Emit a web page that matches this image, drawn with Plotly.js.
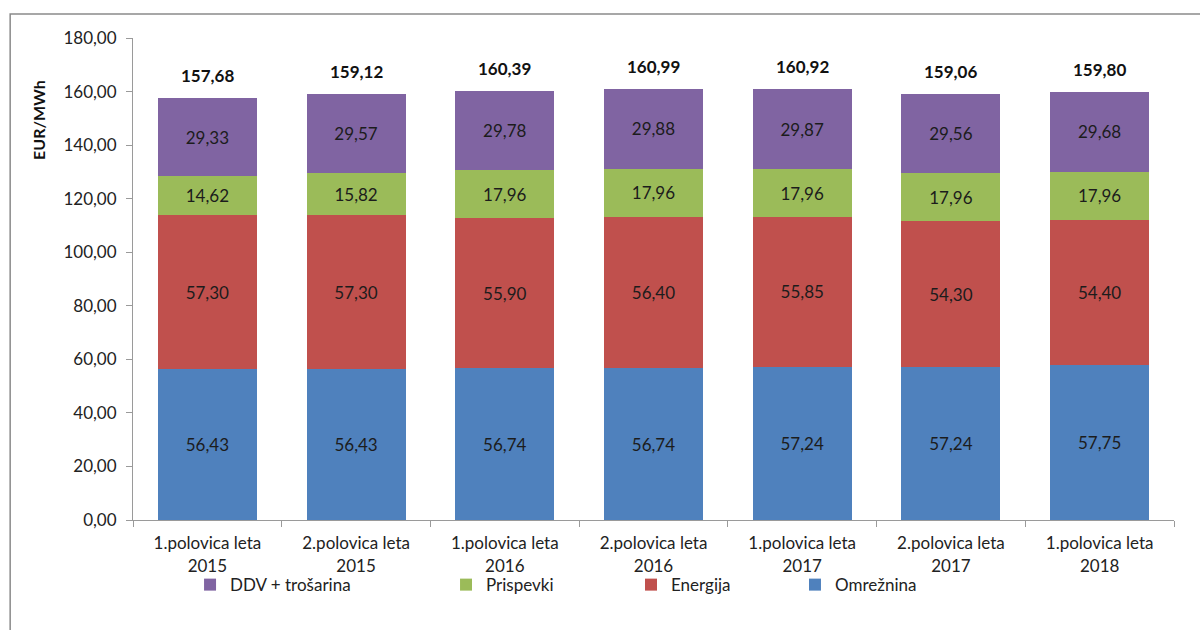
<!DOCTYPE html>
<html>
<head>
<meta charset="utf-8">
<script src="https://cdn.plot.ly/plotly-3.0.1.min.js"></script>
<style>
html,body{margin:0;padding:0;background:#fff;}
#chart{width:1200px;height:630px;}
</style>
</head>
<body>
<div id="chart"></div>
<script>
const categories = [
  "1.polovica leta<br>2015", "2.polovica leta<br>2015",
  "1.polovica leta<br>2016", "2.polovica leta<br>2016",
  "1.polovica leta<br>2017", "2.polovica leta<br>2017",
  "1.polovica leta<br>2018"
];
const omreznina = [56.43, 56.43, 56.74, 56.74, 57.24, 57.24, 57.75];
const energija  = [57.30, 57.30, 55.90, 56.40, 55.85, 54.30, 54.40];
const prispevki = [14.62, 15.82, 17.96, 17.96, 17.96, 17.96, 17.96];
const ddv       = [29.33, 29.57, 29.78, 29.88, 29.87, 29.56, 29.68];
const totals    = [157.68, 159.12, 160.39, 160.99, 160.92, 159.06, 159.80];

const FONT = "Lato, 'Open Sans', sans-serif";
const segFont = {family: FONT, size: 17, color: "#1c1c1c"};

function bar(name, y, color, legendId) {
  return {
    type: "bar", name: name, x: categories, y: y,
    marker: {color: color},
    texttemplate: "%{y:.2f}", textposition: "inside",
    insidetextanchor: "middle", textangle: 0,
    insidetextfont: segFont, hoverinfo: "skip",
    legend: legendId
  };
}

const traces = [
  bar("Omrežnina", omreznina, "#4F81BD", "legend4"),
  bar("Energija", energija, "#C0504D", "legend3"),
  bar("Prispevki", prispevki, "#9BBB59", "legend2"),
  bar("DDV + trošarina", ddv, "#8064A2", "legend")
];

function leg(x) {
  return {
    orientation: "h", x: x, xanchor: "left", y: -0.135, yanchor: "middle",
    font: {family: FONT, size: 17, color: "#222"},
    itemwidth: 30, bgcolor: "rgba(0,0,0,0)"
  };
}

const totalAnnotations = categories.map((c, i) => ({
  x: c, y: totals[i], xref: "x", yref: "y",
  text: "<b>" + totals[i].toFixed(2).replace(".", ",") + "</b>",
  showarrow: false, yanchor: "bottom", yshift: 10,
  font: {family: FONT, size: 17, color: "#111"}
}));

const layout = {
  width: 1200, height: 630,
  margin: {l: 133, r: 26, t: 38, b: 110},
  paper_bgcolor: "#fff", plot_bgcolor: "#fff",
  separators: ",.",
  barmode: "stack", bargap: 0.334,
  font: {family: FONT, size: 17, color: "#222"},
  showlegend: true,
  legend: leg(0.0548),
  legend2: leg(0.3007),
  legend3: leg(0.4784),
  legend4: leg(0.6359),
  xaxis: {
    type: "category",
    showline: true, linecolor: "#9a9a9a", linewidth: 1,
    ticks: "outside", tickson: "boundaries", ticklen: 6, tickcolor: "#9a9a9a",
    ticklabelstandoff: 8,
    showgrid: false, zeroline: false,
    tickfont: {family: FONT, size: 17, color: "#222"}
  },
  yaxis: {
    range: [0, 180], dtick: 20, tickformat: ".2f",
    showline: true, linecolor: "#9a9a9a", linewidth: 1,
    ticks: "outside", ticklen: 6, tickcolor: "#9a9a9a",
    ticklabelstandoff: 6,
    showgrid: false, zeroline: false,
    tickfont: {family: FONT, size: 17, color: "#222"}
  },
  annotations: [{
    xref: "paper", yref: "paper", x: -0.0903, y: 0.83,
    text: "<b>EUR/MWh</b>", textangle: -90, showarrow: false,
    font: {family: FONT, size: 16, color: "#111"},
    xanchor: "center", yanchor: "middle"
  }].concat(totalAnnotations),
  shapes: [{
    type: "rect", xref: "paper", yref: "paper",
    x0: -0.118, x1: 1.04, y0: -0.26, y1: 1.0498,
    line: {color: "#8a8a8a", width: 1.5}, fillcolor: "rgba(0,0,0,0)"
  }]
};

Plotly.newPlot("chart", traces, layout, {displayModeBar: false, staticPlot: true});
</script>
</body>
</html>
